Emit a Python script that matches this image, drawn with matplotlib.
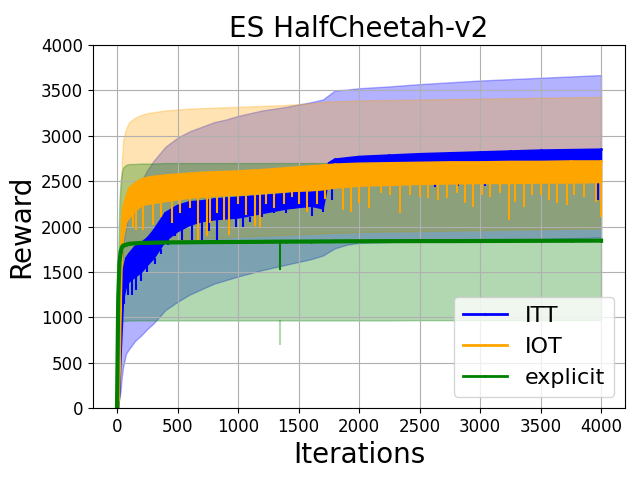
import matplotlib
matplotlib.use('Agg')
import matplotlib.pyplot as plt
import numpy as np

iters = [0, 10, 20, 30, 40, 50, 75, 100, 150, 200, 250, 300, 400, 500, 600, 700,
         800, 900, 1000, 1200, 1400, 1600, 1700, 1750, 1800, 1900, 2000, 2250,
         2500, 2750, 3000, 3250, 3500, 3750, 4000]

# ITT: spread band and noisy body of the mean curve
itt_band_hi = [0, 300, 800, 1300, 1600, 1800, 2000, 2150, 2350, 2500, 2620, 2720, 2880, 2980, 3050, 3100,
               3150, 3180, 3220, 3280, 3320, 3370, 3400, 3450, 3500, 3510, 3525, 3545,
               3570, 3590, 3610, 3625, 3640, 3655, 3670]
itt_band_lo = [0, 50, 100, 200, 350, 450, 600, 650, 740, 800, 870, 930, 1080, 1170, 1250, 1310,
               1370, 1410, 1450, 1520, 1580, 1640, 1680, 1720, 1760, 1800, 1820, 1830,
               1840, 1850, 1850, 1860, 1860, 1870, 1880]
itt_hi = [0, 200, 500, 1000, 1300, 1500, 1650, 1700, 1780, 1820, 1870, 1950, 2150, 2230, 2270, 2280,
          2300, 2310, 2320, 2340, 2360, 2400, 2450, 2700, 2740, 2755, 2770, 2785,
          2800, 2810, 2820, 2830, 2840, 2845, 2850]
itt_lo = [0, 0, 200, 600, 900, 1200, 1350, 1400, 1450, 1500, 1580, 1650, 1850, 1950, 2020, 2060,
          2080, 2090, 2100, 2150, 2200, 2230, 2200, 2550, 2650, 2665, 2675, 2690,
          2700, 2710, 2715, 2720, 2725, 2730, 2735]

# IOT
iot_band_hi = [0, 500, 1500, 2300, 2700, 2950, 3080, 3150, 3200, 3230, 3250, 3260, 3280, 3290, 3300, 3305,
               3310, 3315, 3320, 3330, 3340, 3360, 3370, 3380, 3380, 3385, 3390, 3395,
               3400, 3405, 3410, 3415, 3420, 3425, 3430]
iot_band_lo = [0, 100, 400, 900, 1200, 1400, 1600, 1680, 1750, 1780, 1800, 1810, 1830, 1850, 1860, 1870,
               1875, 1880, 1890, 1900, 1910, 1920, 1925, 1930, 1930, 1935, 1940, 1945,
               1950, 1955, 1960, 1965, 1970, 1975, 1980]
iot_hi = [0, 100, 600, 1600, 2050, 2200, 2330, 2420, 2480, 2520, 2540, 2550, 2565, 2575, 2585, 2595,
          2600, 2605, 2610, 2625, 2645, 2665, 2675, 2680, 2685, 2690, 2695, 2700,
          2705, 2710, 2710, 2715, 2715, 2720, 2720]
iot_lo = [0, 0, 300, 1100, 1700, 1900, 2050, 2100, 2180, 2230, 2250, 2260, 2280, 2300, 2320, 2330,
          2340, 2350, 2350, 2370, 2390, 2400, 2410, 2420, 2430, 2440, 2450, 2460,
          2470, 2475, 2480, 2480, 2485, 2485, 2490]

# explicit
exp_band_hi = [0, 1700, 2300, 2500, 2600, 2650, 2680, 2690, 2690, 2695, 2695, 2695, 2700, 2700, 2700, 2700,
               2700, 2700, 2700, 2700, 2700, 2700, 2700, 2700, 2700, 2700, 2700, 2700,
               2705, 2705, 2705, 2705, 2705, 2705, 2705]
exp_band_lo = [0, 500, 800, 920, 950, 960, 962, 964, 965, 965, 965, 965, 965, 965, 965, 965,
               965, 965, 965, 965, 965, 965, 965, 965, 965, 965, 965, 965,
               968, 968, 968, 968, 970, 970, 970]
exp_mean = [0, 1200, 1600, 1720, 1770, 1790, 1800, 1810, 1815, 1820, 1820, 1822, 1825, 1826, 1827, 1828,
            1829, 1830, 1830, 1832, 1834, 1835, 1836, 1836, 1837, 1838, 1838, 1839,
            1840, 1840, 1841, 1842, 1843, 1844, 1845]

# downward spikes of the mean curves
itt_dip_x = [60, 90, 120, 160, 200, 250, 313, 360, 420, 480, 540, 618, 705, 760, 826, 925,
             980, 1040, 1100, 1200, 1300, 1400, 1504, 1560, 1615, 1700, 1780, 1870, 2000,
             2183, 2420, 2625, 2820, 3040, 3302, 3566, 3760, 3971]
itt_dip_top = [1300, 1400, 1420, 1450, 1500, 1580, 1650, 1750, 1880, 1950, 2000, 2030, 2060, 2070, 2080, 2090,
               2100, 2100, 2110, 2150, 2180, 2200, 2230, 2220, 2220, 2200, 2600, 2660, 2675,
               2690, 2700, 2710, 2715, 2720, 2720, 2725, 2730, 2735]
itt_dip_bot = [1150, 1250, 1250, 1300, 1400, 1500, 1590, 1700, 1800, 1900, 1850, 1850, 1850, 1950, 1850, 1960,
               2000, 2000, 2050, 2100, 2150, 2150, 2220, 2200, 2120, 2160, 2290, 2480, 2500,
               2480, 2520, 2440, 2450, 2450, 2500, 2450, 2520, 2290]

iot_dip_x = [133, 161, 216, 299, 360, 451, 520, 600, 673, 743, 770, 830, 881, 923, 1000,
             1062, 1140, 1180, 1230, 1300, 1380, 1449, 1500, 1573, 1650, 1720,
             1865, 1934, 2003, 2081, 2183, 2253, 2336, 2419, 2502, 2571, 2654, 2724,
             2807, 2876, 2945, 3015, 3084, 3167, 3236, 3292, 3361, 3431, 3500, 3569,
             3638, 3722, 3777, 3860, 3957, 3998]
iot_dip_top = [2150, 2180, 2230, 2260, 2270, 2290, 2300, 2320, 2330, 2335, 2335, 2345, 2350, 2350, 2350,
               2360, 2365, 2370, 2370, 2375, 2385, 2390, 2395, 2400, 2405, 2410,
               2430, 2435, 2440, 2445, 2450, 2455, 2460, 2465, 2470, 2470, 2472, 2474,
               2475, 2476, 2478, 2480, 2480, 2480, 2480, 2480, 2482, 2483, 2485, 2485,
               2485, 2486, 2487, 2488, 2489, 2490]
iot_dip_bot = [2000, 1960, 1960, 2016, 2100, 2040, 2150, 2200, 1851, 1895, 2040, 2150, 2075, 1906, 2250,
               2130, 2003, 2000, 2250, 2200, 2250, 2330, 2250, 2164, 2250, 2300,
               2182, 2163, 2256, 2200, 2366, 2347, 2145, 2347, 2329, 2310, 2292, 2310,
               2366, 2256, 2218, 2347, 2329, 2366, 2072, 2274, 2218, 2347, 2347, 2292,
               2256, 2237, 2347, 2329, 2274, 2108]

exp_dip_x = [1345]
exp_dip_top = [1832]
exp_dip_bot = [1520]
exp_band_dip_bot = [690]

fig = plt.figure(figsize=(6.4, 4.8), dpi=100)
ax = fig.add_subplot(1, 1, 1)
fig.subplots_adjust(left=0.145, right=0.977, top=0.906, bottom=0.15)

a = 0.3
ax.fill_between(iters, itt_band_lo, itt_band_hi, color='blue', alpha=a)
ax.fill_between(iters, iot_band_lo, iot_band_hi, color='orange', alpha=a)
ax.fill_between(iters, exp_band_lo, exp_band_hi, color='green', alpha=a)
ax.vlines(exp_dip_x, exp_band_dip_bot, 965, color='green', alpha=a, lw=1.5)

# ITT mean
ax.fill_between(iters, itt_lo, itt_hi, color='blue', lw=1, zorder=2)
ax.vlines(itt_dip_x, itt_dip_bot, itt_dip_top, color='blue', lw=1.5, zorder=2)
ax.plot(iters, itt_hi, color='blue', marker='.', markersize=2, lw=1.5, label='ITT')

# IOT mean
ax.fill_between(iters, iot_lo, iot_hi, color='orange', lw=1, zorder=2)
ax.vlines(iot_dip_x, iot_dip_bot, iot_dip_top, color='orange', lw=1.5, zorder=2)
ax.plot(iters, iot_hi, color='orange', marker='.', markersize=2, lw=1.5, label='IOT')

# explicit mean
ax.vlines(exp_dip_x, exp_dip_bot, exp_dip_top, color='green', lw=1.5, zorder=2)
ax.plot(iters, exp_mean, color='green', marker='.', markersize=2, lw=3, label='explicit')

ax.set_ylim([0, 4000])
ax.set_xticks(np.arange(0, 4001, 500))
ax.tick_params(labelsize=12)
plt.title('ES HalfCheetah-v2', fontsize=20)
plt.xlabel('Iterations', fontsize=20)
plt.ylabel('Reward', fontsize=20)
plt.grid()

leg = ax.legend(loc='lower right', fontsize=16)
for h in leg.get_lines():
    h.set_linewidth(2)

fig.savefig('out.png', dpi=100)
